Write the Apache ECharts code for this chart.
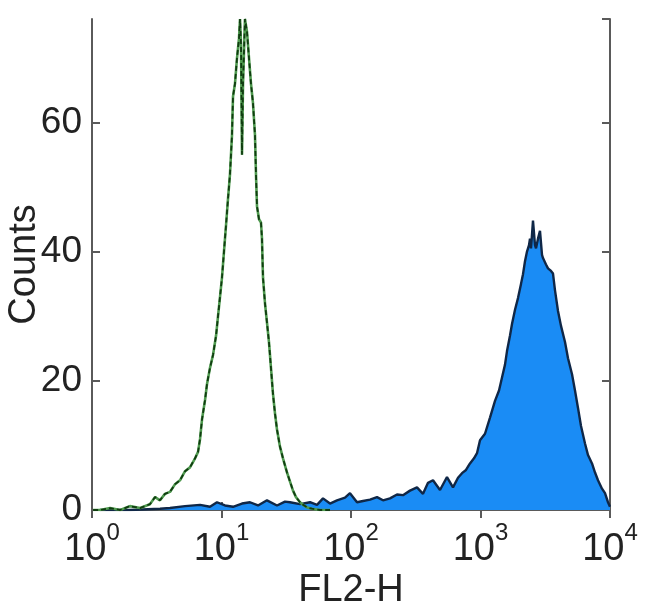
<!DOCTYPE html>
<html>
<head>
<meta charset="utf-8">
<script src="https://cdn.jsdelivr.net/npm/echarts@6/dist/echarts.min.js"></script>
<style>
  html, body { margin: 0; padding: 0; background: #fff; }
  #chart { width: 650px; height: 615px; }
</style>
</head>
<body>
<div id="chart"></div>
<script>
// isotype control (green line)
var greenFL2 = [1.02, 1.15, 1.38, 1.65, 1.96, 2.35, 2.8, 3.07, 3.35, 3.66, 4.0, 4.38, 4.78, 5.23, 5.71, 6.25, 6.59, 6.83, 7.07, 7.46,
  7.73, 8.15, 8.6, 9.08, 9.4, 9.74, 10.09, 10.45, 10.83, 11.21, 11.63, 12.05, 12.27, 12.71, 13.18, 13.65, 13.9, 14.15, 14.4, 14.66,
  15.18, 15.74, 16.3, 16.89, 17.5, 18.14, 18.46, 18.8, 19.48, 20.18, 20.54, 20.91, 21.67, 22.45, 23.26, 24.1, 24.97, 25.87, 26.81, 28.29,
  29.84, 32.06, 33.81, 35.66, 37.61, 40.41, 42.63, 45.8, 50.0, 57.65, 68.86];
var greenCounts = [0, 0, 0.3, 0, 0.6, 0.3, 0.9, 2, 1.5, 2.5, 2.8, 4, 4.6, 6, 6.6, 8, 9, 11, 14, 17,
  19.5, 22, 24, 27, 30, 33, 36, 40, 44, 48, 52, 58, 64, 66, 70, 73, 76, 72, 55, 66,
  76, 74, 70, 66, 63, 58, 52, 47, 45, 44.5, 42, 36, 32, 29, 26, 22, 18, 15, 12.5, 9.8,
  8, 5.8, 4.4, 3, 2, 1.2, 0.8, 0.4, 0.2, 0, 0];

// stained sample (blue filled)
var blueFL2 = [1.15, 1.96, 3.35, 4.0, 5.23, 6.83, 8.15, 9.23, 10.64, 12.27, 14.4, 16.6, 19.13, 22.46, 26.83, 30.93, 33.81, 40.39, 48.25, 54.64,
  60.78, 68.83, 77.98, 89.88, 98.24, 111.3, 123.8, 140.2, 158.8, 176.7, 200.1, 226.6, 252, 285.5, 323.3, 359.8, 393.3, 429.8, 486.8, 551.1,
  613.2, 670.4, 719.6, 772.7, 829.6, 890.8, 939.7, 991.1, 1083, 1184, 1294, 1390, 1466, 1546, 1602, 1690, 1751, 1847, 1948, 2055,
  2129, 2206, 2286, 2369, 2411, 2455, 2543, 2635, 2683, 2780, 2880, 2985, 3038, 3205, 3321, 3503, 3630, 3761, 3967, 4184,
  4493, 4740, 5090, 5366, 5661, 5972, 6412, 6764, 7261, 7662, 8077, 8675, 9150, 9652, 10000];
var blueCounts = [0, 0, 0.2, 0.3, 0.6, 0.8, 0.5, 1.2, 0.7, 0.5, 1.0, 1.2, 0.7, 1.5, 0.7, 1.3, 1.2, 0.9, 1.2, 0.8,
  1.8, 1.0, 1.5, 1.9, 2.6, 1.2, 1.4, 1.6, 2.0, 1.5, 1.8, 2.4, 2.3, 3.0, 3.5, 2.5, 4.2, 4.6, 3.1, 5.1,
  3.5, 5.0, 5.7, 6.2, 7.2, 8.0, 8.8, 10.8, 11.8, 14.3, 16.9, 18.5, 20.5, 22.5, 24.6, 27, 28.8, 31, 32.8, 35,
  36.5, 38.5, 40, 41, 42, 40.5, 44.8, 41, 40.5, 42, 43.2, 39.5, 39, 38, 37.4, 37, 36.6, 34, 30.8, 28.5,
  26, 23.5, 21, 18.5, 15.8, 13, 10.3, 8.5, 7.2, 5.8, 4.6, 3.3, 2.6, 1.2, 0.5];

var xMin = 1, xMax = 10000;
var yMin = 0, yMax = 76, yStep = 20;
var xTitle = 'FL2-H', yTitle = 'Counts';

function pairs(xs, ys) {
  var out = [];
  for (var i = 0; i < xs.length; i++) out.push([xs[i], ys[i]]);
  return out;
}

var chart = echarts.init(document.getElementById('chart'));
var font = '"Liberation Sans", Arial, Helvetica, sans-serif';
var axisCol = '#5a5a5a';
var txtCol = '#222';

var option = {
  animation: false,
  backgroundColor: '#fff',
  grid: { left: 92, right: 40, top: 19, bottom: 105, containLabel: false, outerBoundsMode: 'none' },
  xAxis: [
    {
      type: 'log', logBase: 10, min: xMin, max: xMax, position: 'bottom',
      name: xTitle, nameLocation: 'middle', nameGap: 62, nameMoveOverlap: false,
      nameTextStyle: { fontSize: 38, color: txtCol, fontFamily: font },
      axisLine: { lineStyle: { color: axisCol, width: 2 } },
      axisTick: { inside: true, length: 8, lineStyle: { color: axisCol, width: 2 } },
      minorTick: { show: false },
      splitLine: { show: false },
      axisLabel: {
        margin: 11,
        formatter: function (v) {
          var n = Math.round(Math.log(v) / Math.LN10);
          return '{b|10}{s|' + n + '}';
        },
        rich: {
          b: { fontSize: 38, color: txtCol, fontFamily: font, lineHeight: 48, verticalAlign: 'bottom' },
          s: { fontSize: 24, color: txtCol, fontFamily: font, lineHeight: 24, verticalAlign: 'top' }
        }
      }
    },
    {
      type: 'log', logBase: 10, min: xMin, max: xMax, position: 'top',
      axisLine: { lineStyle: { color: axisCol, width: 2 } },
      axisTick: { inside: true, length: 8, lineStyle: { color: axisCol, width: 2 } },
      axisLabel: { show: false },
      splitLine: { show: false }
    }
  ],
  yAxis: [
    {
      type: 'value', min: yMin, max: yMax, interval: yStep, position: 'left',
      name: yTitle, nameLocation: 'middle', nameGap: 48, nameRotate: 90, nameMoveOverlap: false,
      nameTextStyle: { fontSize: 38, color: txtCol, fontFamily: font },
      axisLine: { show: true, lineStyle: { color: axisCol, width: 2 } },
      axisTick: { show: true, inside: true, length: 8, lineStyle: { color: axisCol, width: 2 } },
      splitLine: { show: false },
      axisLabel: { margin: 10, fontSize: 37, color: txtCol, fontFamily: font, showMaxLabel: false }
    },
    {
      type: 'value', min: yMin, max: yMax, interval: yStep, position: 'right',
      axisLine: { show: true, lineStyle: { color: axisCol, width: 2 } },
      axisTick: { show: true, inside: true, length: 8, lineStyle: { color: axisCol, width: 2 } },
      splitLine: { show: false },
      axisLabel: { show: false }
    }
  ],
  series: [
    {
      type: 'line', name: 'stained', data: pairs(blueFL2, blueCounts),
      showSymbol: false, symbol: 'none', z: 2,
      lineStyle: { color: '#0f2747', width: 2.4 },
      areaStyle: { color: '#1a8cf5', opacity: 1 }
    },
    {
      type: 'line', name: 'isotype', data: pairs(greenFL2, greenCounts),
      showSymbol: false, symbol: 'none', z: 3,
      lineStyle: { color: '#4f9a4f', width: 2.6 }
    },
    {
      type: 'line', name: 'isotype outline', data: pairs(greenFL2, greenCounts),
      showSymbol: false, symbol: 'none', z: 4,
      lineStyle: { color: '#103c10', width: 1.8, type: [5, 3] }
    }
  ]
};
chart.setOption(option);
</script>
</body>
</html>
